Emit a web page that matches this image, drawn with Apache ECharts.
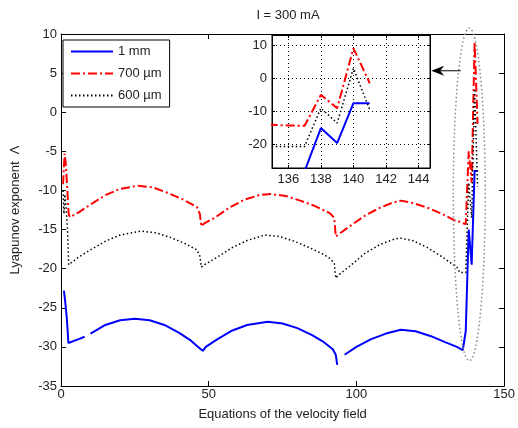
<!DOCTYPE html>
<html>
<head>
<meta charset="utf-8">
<script src="https://cdn.jsdelivr.net/npm/echarts@6/dist/echarts.min.js"></script>
<style>
  html, body { margin: 0; padding: 0; background: #fff; }
  #chart { width: 518px; height: 428px; }
</style>
</head>
<body>
<div id="chart"></div>
<script>
// values (x = equation index, y = Lyapunov exponent)
const x1mm = [1, 1.5, 2, 2.5, 3, 6, 8, 9, 10, 15, 20, 25, 30, 35, 40, 44, 47, 48, 49, 53, 58, 63, 70, 75, 80, 85, 89, 92, 93, 93.5, 95, 96, 100, 105, 110, 115, 120, 125, 130, 134, 136, 137, 138, 139, 140, 141];
const y1mm = [-22.8, -24.5, -26.5, -29.5, -29.5, -29, -28.7, null, -28.3, -27.2, -26.6, -26.4, -26.6, -27.2, -28.2, -29.2, -30.2, -30.5, -30, -29, -27.9, -27.2, -26.8, -27, -27.6, -28.5, -29.4, -30.3, -31, -32.3, null, -31, -30, -29, -28.3, -27.8, -28, -28.6, -29.4, -30, -30.4, -28, -15, -19.5, -7.5, -7.5];

const x700 = [0.7, 1.2, 1.6, 2, 2.6, 3, 6, 10, 15, 20, 26, 31, 36, 41, 46, 47, 47.5, 48.5, 52, 57, 62, 67, 71, 76, 81, 86, 91, 92.5, 93, 94, 98, 103, 108, 112, 115, 119, 124, 129, 134, 135, 136, 137, 138, 139, 140, 141];
const y700 = [-9.2, -5.3, -6.5, -9, -13, -13.4, -12.8, -11.8, -10.6, -9.8, -9.4, -9.6, -10.3, -11.1, -12.1, -13, -14.6, -14.2, -13.5, -12.2, -11.2, -10.6, -10.45, -10.7, -11.3, -12, -12.9, -13.5, -15.9, -15.6, -14.5, -13.2, -12.2, -11.6, -11.3, -11.6, -12.2, -13, -14, -14, -14.2, -14.3, -5, -9, 9, -1.5];

const x600 = [0.7, 1, 1.3, 1.7, 2.2, 2.6, 3, 6, 10, 15, 20, 27, 32, 37, 42, 46, 47, 47.5, 49, 53, 58, 63, 69, 74, 79, 84, 89, 91, 92.5, 93, 94, 98, 103, 108, 113, 115, 119, 124, 129, 134, 135, 136, 137, 138, 139, 140, 141];
const y600 = [-10, -13, -10.5, -12, -15, -19.5, -19.4, -18.5, -17.6, -16.5, -15.7, -15.2, -15.4, -16, -16.8, -17.6, -18.4, -19.8, -19.4, -18.5, -17.3, -16.4, -15.7, -15.9, -16.5, -17.3, -18.2, -18.7, -19.3, -21.2, -20.8, -19.6, -18, -16.9, -16.2, -16.1, -16.4, -17.3, -18.5, -19.8, -20.5, -20.5, -20.5, -9, -13.5, 3, -9.5];

const seriesNames = ['1 mm', '700 µm', '600 µm'];
const mainXTicks = [0, 50, 100, 150];
const insetXTicks = [136, 138, 140, 142, 144];
const insetYTicks = [-20, -10, 0, 10];

const font = 'Liberation Sans, Arial, sans-serif';
const txt = '#222';

const pairs = (xs, ys) => xs.map((x, i) => [x, ys[i]]);
const d1 = pairs(x1mm, y1mm);
const d2 = pairs(x700, y700);
const d3 = pairs(x600, y600);

const styles = [
  { color: '#0000ff', width: 2, type: 'solid' },
  { color: '#ff0000', width: 2, type: [9, 3, 2, 3] },
  { color: '#000000', width: 1.5, type: [1.5, 2.5] }
];
const datas = [d1, d2, d3];

function mkSeries(axis, z) {
  return seriesNames.map((name, i) => ({
    name: name,
    type: 'line',
    xAxisIndex: axis,
    yAxisIndex: axis,
    data: datas[i],
    symbol: 'none',
    connectNulls: false,
    animation: false,
    z: z,
    clip: true,
    lineStyle: { color: styles[i].color, width: styles[i].width, type: styles[i].type },
    itemStyle: { color: styles[i].color }
  }));
}

const chart = echarts.init(document.getElementById('chart'));

const frameAxis = {
  axisLine: { show: true, onZero: false, lineStyle: { color: '#000', width: 1 } },
  axisTick: { show: true, inside: true, length: 5, lineStyle: { color: '#000' } },
  splitLine: { show: false }
};

const option = {
  animation: false,
  backgroundColor: '#fff',
  title: {
    text: 'I = 300 mA',
    left: 283,
    textAlign: 'center',
    top: 4,
    textStyle: { fontFamily: font, fontSize: 13, fontWeight: 'normal', color: txt }
  },
  legend: {
    data: seriesNames,
    orient: 'vertical',
    left: 63,
    top: 40,
    z: 20,
    padding: [5, 8, 5, 7],
    itemGap: 9,
    itemWidth: 42,
    itemHeight: 14,
    borderColor: '#000',
    borderWidth: 1,
    backgroundColor: '#fff',
    itemStyle: { opacity: 0 },
    textStyle: { fontFamily: font, fontSize: 13, color: txt }
  },
  grid: [
    { left: 61, right: 13, top: 34, bottom: 42 },
    { left: 272, right: 88, top: 35, bottom: 260, z: 10, show: true, backgroundColor: '#fff', borderColor: '#000', borderWidth: 1 }
  ],
  xAxis: [
    Object.assign({}, frameAxis, {
      type: 'value', gridIndex: 0, position: 'bottom', min: 0, max: 150, interval: 50,
      name: 'Equations of the velocity field', nameLocation: 'middle', nameGap: 22,
      nameTextStyle: { fontFamily: font, fontSize: 13, color: txt },
      axisLabel: { fontFamily: font, fontSize: 13, color: txt, margin: 2, customValues: mainXTicks }
    }),
    Object.assign({}, frameAxis, {
      type: 'value', gridIndex: 0, position: 'top', min: 0, max: 150, interval: 50,
      axisLabel: { show: false }
    }),
    Object.assign({}, frameAxis, {
      type: 'value', gridIndex: 1, position: 'bottom', min: 135, max: 144.7, z: 11,
      axisTick: { show: true, inside: true, length: 3, customValues: insetXTicks, lineStyle: { color: '#000' } },
      axisLabel: { fontFamily: font, fontSize: 13, color: txt, margin: 5, customValues: insetXTicks },
      splitLine: { show: true, lineStyle: { color: '#000', type: [1, 3], width: 1 } }
    }),
    Object.assign({}, frameAxis, {
      type: 'value', gridIndex: 1, position: 'top', min: 135, max: 144.7, z: 11,
      axisTick: { show: true, inside: true, length: 3, customValues: insetXTicks, lineStyle: { color: '#000' } },
      axisLabel: { show: false }
    })
  ],
  yAxis: [
    Object.assign({}, frameAxis, {
      type: 'value', gridIndex: 0, position: 'left', min: -35, max: 10, interval: 5,
      name: 'Lyapunov exponent  Λ', nameLocation: 'middle', nameGap: 39,
      nameTextStyle: { fontFamily: font, fontSize: 13, color: txt },
      axisLabel: { fontFamily: font, fontSize: 13, color: txt, margin: 4 }
    }),
    Object.assign({}, frameAxis, {
      type: 'value', gridIndex: 0, position: 'right', min: -35, max: 10, interval: 5,
      axisLabel: { show: false }
    }),
    Object.assign({}, frameAxis, {
      type: 'value', gridIndex: 1, position: 'left', min: -27, max: 13, z: 11,
      axisTick: { show: true, inside: true, length: 3, customValues: insetYTicks, lineStyle: { color: '#000' } },
      axisLabel: { fontFamily: font, fontSize: 13, color: txt, margin: 5, customValues: insetYTicks },
      splitLine: { show: true, lineStyle: { color: '#000', type: [1, 3], width: 1 } }
    }),
    Object.assign({}, frameAxis, {
      type: 'value', gridIndex: 1, position: 'right', min: -27, max: 13, z: 11,
      axisTick: { show: true, inside: true, length: 3, customValues: insetYTicks, lineStyle: { color: '#000' } },
      axisLabel: { show: false }
    })
  ],
  series: [].concat(mkSeries(0, 2), mkSeries(2, 12))
};

chart.setOption(option);

// annotation: dotted ellipse round the spikes and the arrow pointing to the inset
const c = chart.convertToPixel({ xAxisIndex: 0, yAxisIndex: 0 }, [138.2, -10.5]);
const e = chart.convertToPixel({ xAxisIndex: 0, yAxisIndex: 0 }, [143.6, 10]);
const a0 = chart.convertToPixel({ xAxisIndex: 0, yAxisIndex: 0 }, [125.3, 5.3]);
const a1 = chart.convertToPixel({ xAxisIndex: 0, yAxisIndex: 0 }, [135.3, 5.3]);
chart.setOption({
  graphic: [
    {
      type: 'ellipse', z: 15, silent: true,
      shape: { cx: c[0], cy: c[1], rx: e[0] - c[0], ry: c[1] - e[1] + 6 },
      style: { fill: 'none', stroke: '#888', lineWidth: 1.5, lineDash: [1.5, 2.5] }
    },
    {
      type: 'line', z: 15, silent: true,
      shape: { x1: a0[0] + 4, y1: a0[1], x2: a1[0], y2: a1[1] },
      style: { stroke: '#000', lineWidth: 1 }
    },
    {
      type: 'polygon', z: 15, silent: true,
      shape: { points: [[a0[0], a0[1]], [a0[0] + 13, a0[1] - 5], [a0[0] + 9, a0[1]], [a0[0] + 13, a0[1] + 5]] },
      style: { fill: '#000' }
    }
  ]
});
</script>
</body>
</html>
